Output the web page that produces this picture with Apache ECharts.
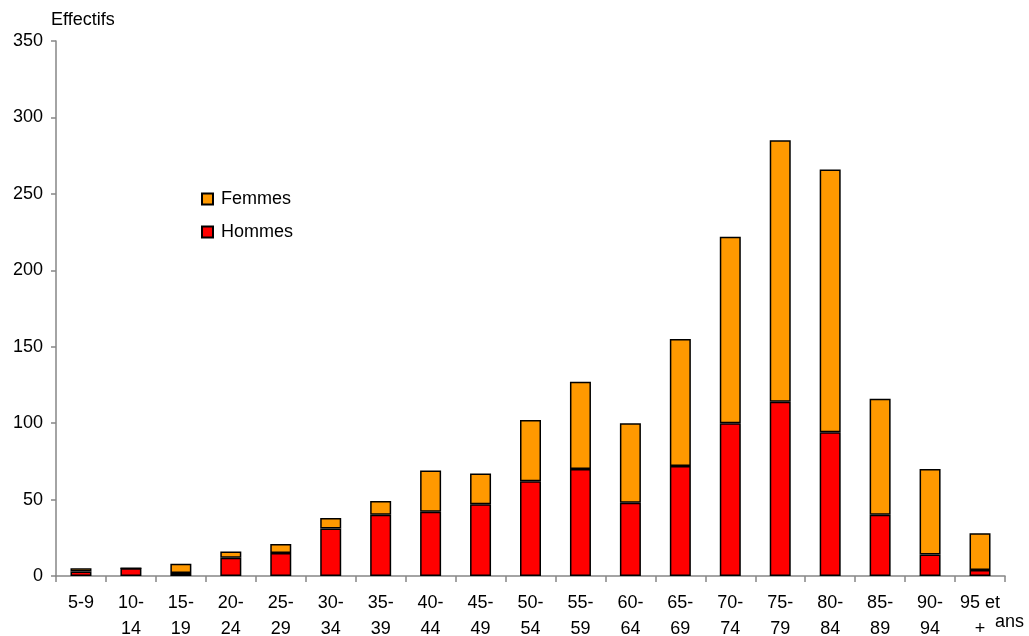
<!DOCTYPE html>
<html>
<head>
<meta charset="utf-8">
<script src="https://cdn.jsdelivr.net/npm/echarts@6/dist/echarts.min.js"></script>
<style>
  html, body { margin: 0; padding: 0; background: #fff; }
  #chart { width: 1029px; height: 636px; }
</style>
</head>
<body>
<div id="chart"></div>
<script>
// tranches d'âge
const ageGroups = ["5-9", "10-\n14", "15-\n19", "20-\n24", "25-\n29", "30-\n34", "35-\n39", "40-\n44", "45-\n49",
  "50-\n54", "55-\n59", "60-\n64", "65-\n69", "70-\n74", "75-\n79", "80-\n84", "85-\n89", "90-\n94", "95 et\n+"];
const hommes = [3, 5, 2, 12, 15, 31, 40, 42, 47, 62, 70, 48, 72, 100, 114, 94, 40, 14, 4];
const femmes = [2, 0, 6, 4, 6, 7, 9, 27, 20, 40, 57, 52, 83, 122, 171, 172, 76, 56, 24];
const yTicks = [0, 50, 100, 150, 200, 250, 300, 350];

const FONT = "Liberation Sans, Arial, sans-serif";
const axisGrey = "#868686";

let myChart = echarts.init(document.getElementById("chart"));
let option = {
  animation: false,
  backgroundColor: "#fff",
  textStyle: { fontFamily: FONT, color: "#000" },
  grid: { left: 56, right: 24, top: 41, bottom: 60, containLabel: false, outerBoundsMode: "none" },
  legend: {
    orient: "vertical",
    left: 201,
    top: 190,
    padding: 0,
    itemWidth: 11,
    itemHeight: 11,
    itemGap: 15,
    icon: "rect",
    data: ["Femmes", "Hommes"],
    textStyle: { fontFamily: FONT, fontSize: 18, lineHeight: 18, color: "#000", padding: [0, 0, 0, 3] }
  },
  // unité de l'axe des abscisses
  graphic: [{
    type: "text",
    right: 5,
    top: 613,
    style: { text: "ans", font: "18px " + FONT, fill: "#000" }
  }],
  xAxis: {
    type: "category",
    data: ageGroups,
    axisLine: { lineStyle: { color: axisGrey, width: 1.5 } },
    axisTick: { show: true, alignWithLabel: false, length: 6, lineStyle: { color: axisGrey, width: 1.5 } },
    axisLabel: { interval: 0, fontFamily: FONT, fontSize: 18, color: "#000", lineHeight: 26, margin: 14 }
  },
  yAxis: {
    type: "value",
    min: yTicks[0],
    max: yTicks[yTicks.length - 1],
    interval: 50,
    name: "Effectifs",
    nameLocation: "end",
    nameGap: 12,
    nameTextStyle: { fontFamily: FONT, fontSize: 18, color: "#000", align: "left", padding: [0, 0, 0, -5] },
    splitLine: { show: false },
    axisLine: { show: true, lineStyle: { color: axisGrey, width: 1.5 } },
    axisTick: { show: true, length: 5, lineStyle: { color: axisGrey, width: 1.5 } },
    axisLabel: { fontFamily: FONT, fontSize: 18, color: "#000", margin: 13 }
  },
  series: [
    {
      name: "Hommes",
      type: "bar",
      stack: "total",
      barWidth: 21,
      data: hommes,
      itemStyle: { color: "#FF0000", borderColor: "#000", borderWidth: 1.5 }
    },
    {
      name: "Femmes",
      type: "bar",
      stack: "total",
      barWidth: 21,
      data: femmes,
      itemStyle: { color: "#FF9900", borderColor: "#000", borderWidth: 1.5 }
    }
  ]
};
myChart.setOption(option);
</script>
</body>
</html>
